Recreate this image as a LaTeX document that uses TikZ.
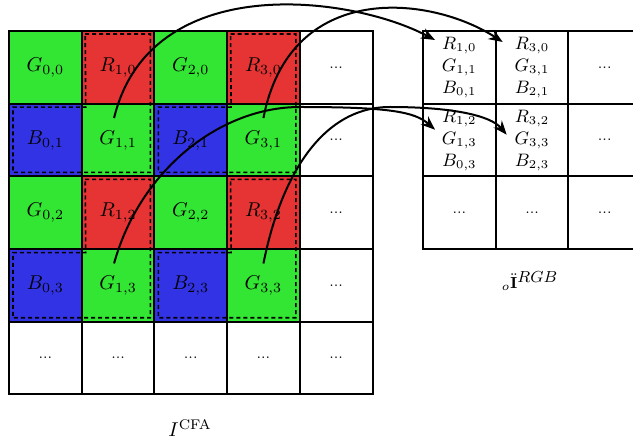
\documentclass[tikz,border=0pt]{standalone}
\usetikzlibrary{arrows.meta,calc}
\definecolor{bgreen}{RGB}{51,230,51}
\definecolor{bred}{RGB}{230,51,51}
\definecolor{bblue}{RGB}{51,51,230}
\begin{document}
\begin{tikzpicture}[x=0.5pt,y=-0.5pt,
  cell/.style={draw=black, line width=1pt, minimum width=36.35pt, minimum height=36.35pt, inner sep=0pt, outer sep=0pt, anchor=center},
  dots/.style={cell, font=\scriptsize},
  rgbcell/.style={cell, font=\small, align=center},
  grp/.style={draw=black, line width=0.8pt, dash pattern=on 2pt off 1.5pt},
  link/.style={draw=black, line width=1pt, -{Stealth[length=7pt,width=5.5pt]}},
  lbl/.style={inner sep=0pt}]
\useasboundingbox (0,0) rectangle (633,443);
% left CFA grid
\foreach \i/\x in {0/45.35,1/118.05,2/190.75,3/263.45}{
  \foreach \j/\y in {0/67.35,1/140.05,2/212.75,3/285.45}{
    \pgfmathtruncatemacro{\ci}{mod(\i,2)}
    \pgfmathtruncatemacro{\cj}{mod(\j,2)}
    \ifnum\ci=\cj
      \node[cell, fill=bgreen] (L-\i-\j) at (\x,\y) {$G_{\i,\j}$};
    \else\ifnum\ci=1
      \node[cell, fill=bred] (L-\i-\j) at (\x,\y) {$R_{\i,\j}$};
    \else
      \node[cell, fill=bblue] (L-\i-\j) at (\x,\y) {$B_{\i,\j}$};
    \fi\fi
  }
}
\foreach \j/\y in {0/67.35,1/140.05,2/212.75,3/285.45}{
  \node[dots] (L-4-\j) at (336.15,\y) {...};
}
\foreach \i/\x in {0/45.35,1/118.05,2/190.75,3/263.45,4/336.15}{
  \node[dots] (L-\i-4) at (\x,358.15) {...};
}
% dashed L-shaped groups
\foreach \c/\b/\r/\g in {1/0/0/1,3/2/0/1,1/0/2/3,3/2/2/3}{
  \draw[grp] ([shift={(3.5,3)}]L-\c-\r.north west) -- ([shift={(-4,3)}]L-\c-\r.north east)
    -- ([shift={(-4,-4)}]L-\c-\g.south east) -- ([shift={(4,-4)}]L-\b-\g.south west)
    -- ([shift={(4,3.5)}]L-\b-\g.north west) -- ([shift={(4,3.5)}]L-\c-\g.north west) -- cycle;
}
% right RGB grid
\node[rgbcell] (R-0-0) at (459.35,67.35) {$R_{1,0}$\\$G_{1,1}$\\$B_{0,1}$};
\node[rgbcell] (R-1-0) at (532.05,67.35) {$R_{3,0}$\\$G_{3,1}$\\$B_{2,1}$};
\node[rgbcell] (R-0-1) at (459.35,140.05) {$R_{1,2}$\\$G_{1,3}$\\$B_{0,3}$};
\node[rgbcell] (R-1-1) at (532.05,140.05) {$R_{3,2}$\\$G_{3,3}$\\$B_{2,3}$};
\node[dots] (R-2-0) at (604.75,67.35) {...};
\node[dots] (R-2-1) at (604.75,140.05) {...};
\node[dots] (R-0-2) at (459.35,212.75) {...};
\node[dots] (R-1-2) at (532.05,212.75) {...};
\node[dots] (R-2-2) at (604.75,212.75) {...};
% connectors
\draw[link] ([shift={(-4,-22)}]L-1-1.center) .. controls (150,-30) and (350,-5) .. ([shift={(12,9)}]R-0-0.north west);
\draw[link] ([shift={(0,-22)}]L-3-1.center) .. controls (290,-20) and (430,-5) .. ([shift={(7,11)}]R-1-0.north west);
\draw[link] ([shift={(-4,-22)}]L-1-3.center) .. controls (140,170) and (220,107) .. (300,107)
   .. controls (390,107) and (415,112) .. ([shift={(12,26)}]R-0-1.north west);
\draw[link] ([shift={(0,-22)}]L-3-3.center) .. controls (280,180) and (320,107) .. (390,107)
   .. controls (450,107) and (490,115) .. ([shift={(11,31)}]R-1-1.north west);
% labels
\node[lbl] (cfa) at (190,428) {$I^{\mathrm{CFA}}$};
\node[lbl, font=\footnotesize] (rgb) at (530,281) {${}_{o}\ddot{\mathbf{I}}^{\textstyle RGB}$};
\end{tikzpicture}
\end{document}
